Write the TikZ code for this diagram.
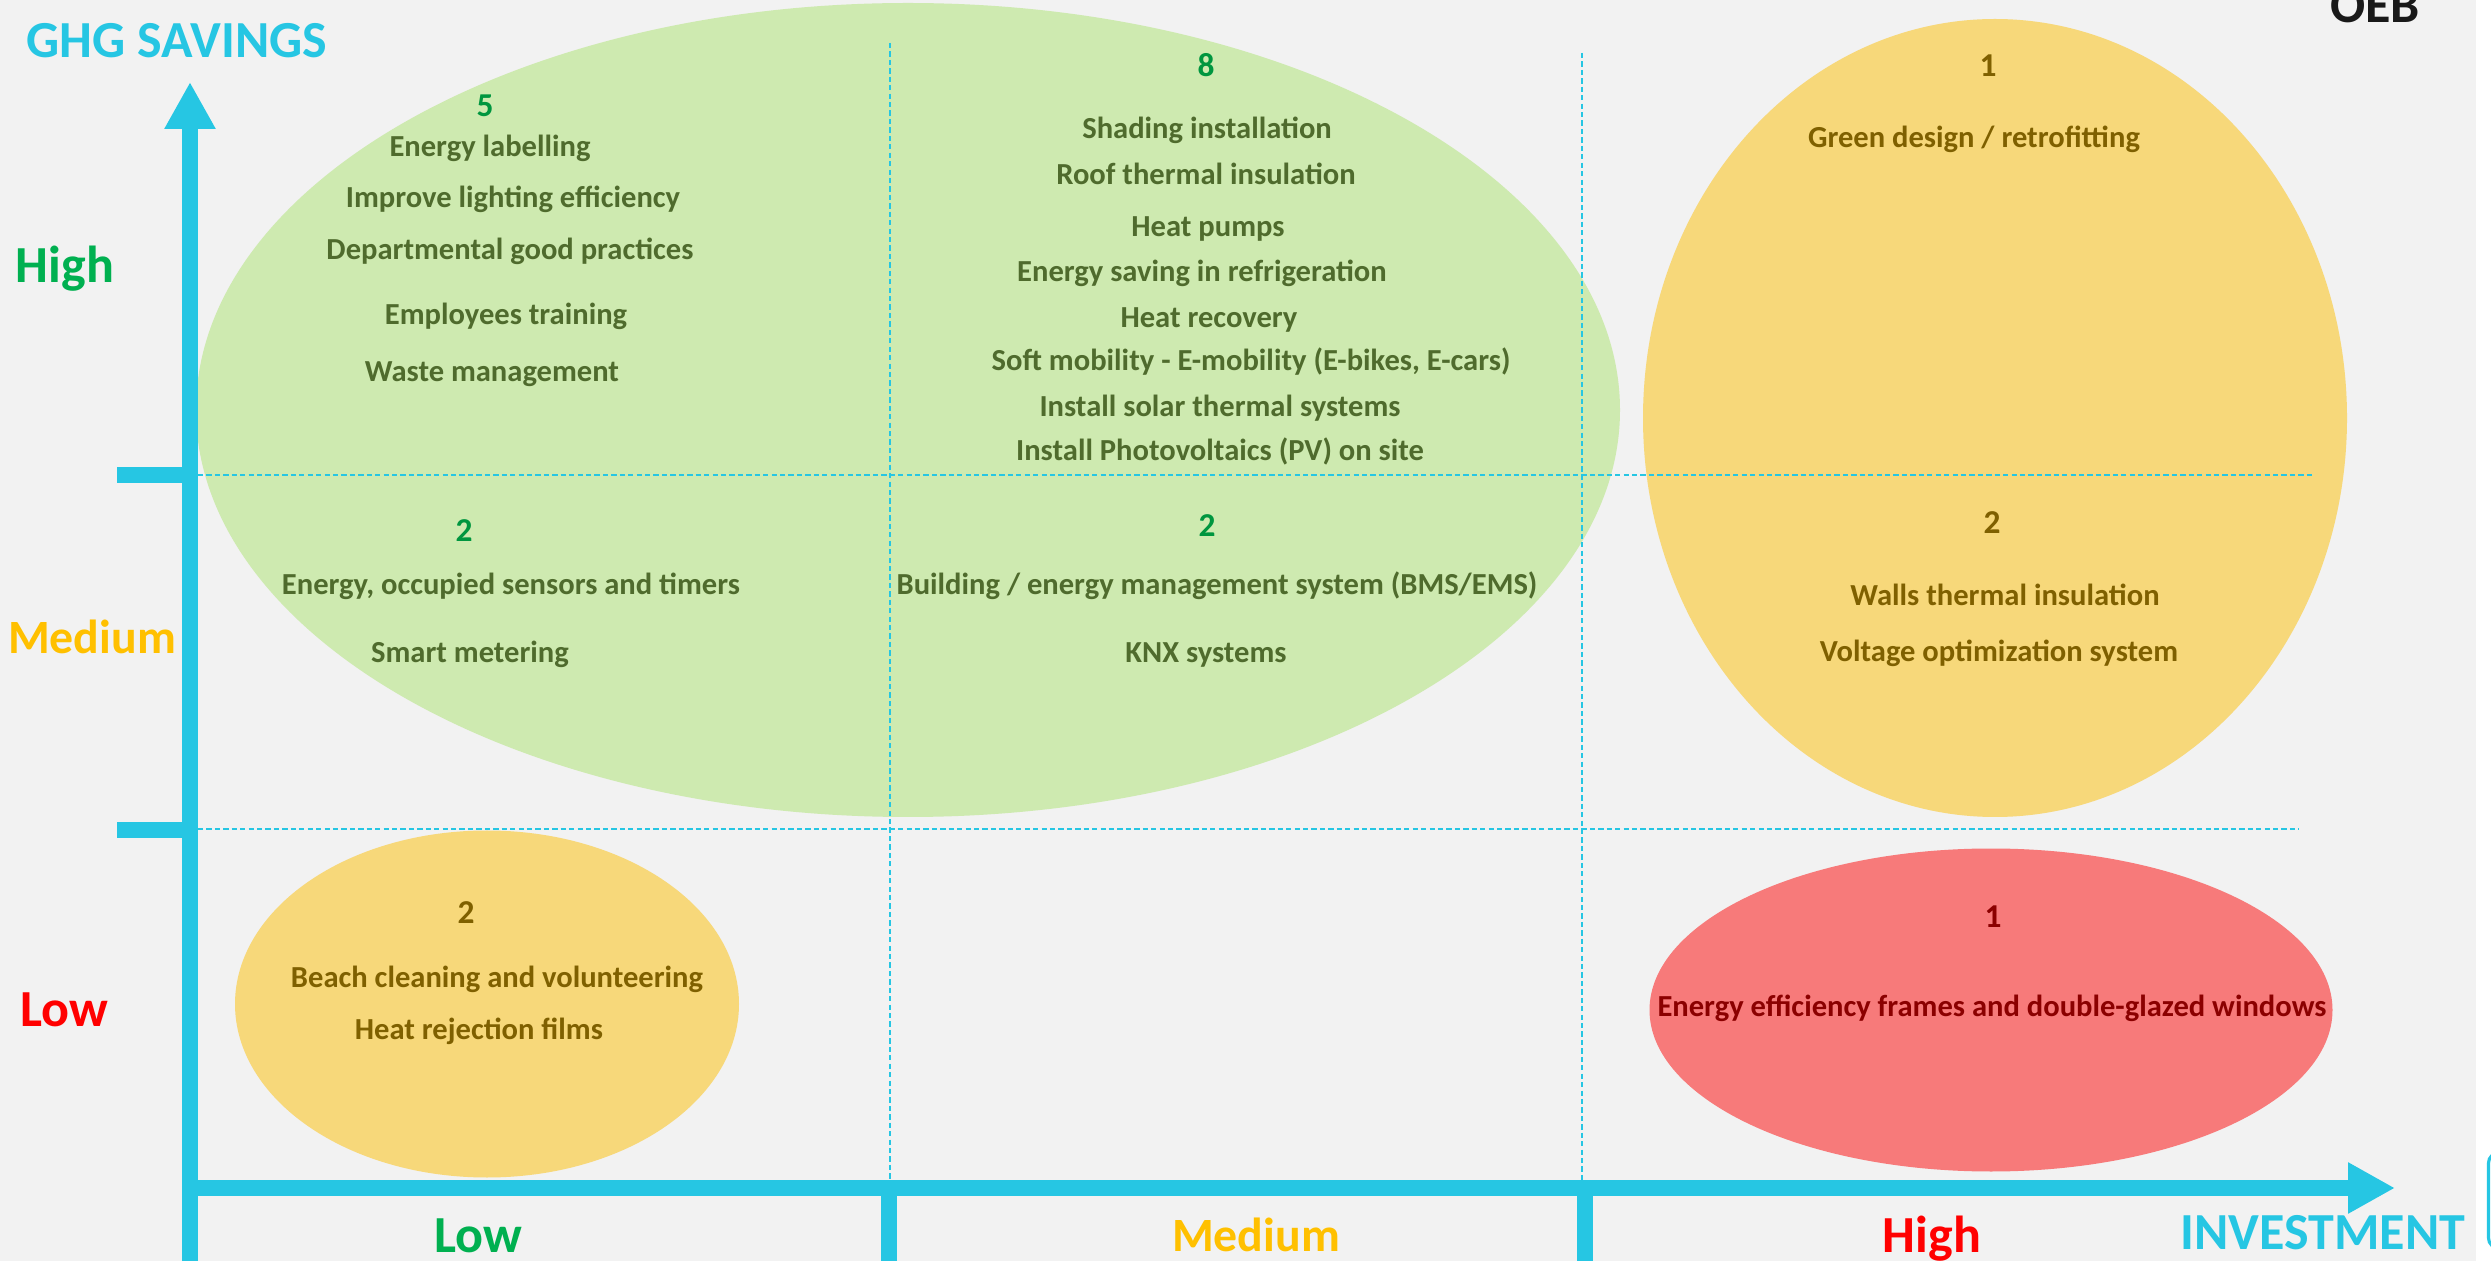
\documentclass[tikz,border=0pt]{standalone}
\usepackage{fontspec}
\setmainfont{Carlito}
\usetikzlibrary{shapes.geometric,arrows.meta}

\definecolor{axiscyan}{HTML}{26C6E3}
\definecolor{bggray}{HTML}{F2F2F2}
\definecolor{lightgreen}{HTML}{CEEAB0}
\definecolor{softyellow}{HTML}{F7D87A}
\definecolor{softred}{HTML}{F77A7A}
\definecolor{olivetext}{HTML}{4F6B2D}
\definecolor{numgreen}{HTML}{00963F}
\definecolor{browntext}{HTML}{7F6000}
\definecolor{darkredtext}{HTML}{8B0000}
\definecolor{lvlgreen}{HTML}{00B050}
\definecolor{lvlgold}{HTML}{FFC000}
\definecolor{lvlred}{HTML}{FF0000}

\begin{document}
\begin{tikzpicture}[
  axis/.style={draw=axiscyan, line width=1.65mm},
  axtick/.style={draw=axiscyan, line width=1.6mm},
  gridline/.style={draw=axiscyan, line width=0.45pt, dash pattern=on 1.5pt off 0.9pt},
  blob/.style={ellipse, inner sep=0pt},
  item/.style={anchor=base, inner sep=0pt, text=#1, font=\fontsize{8.7}{10}\selectfont\bfseries},
  item/.default=olivetext,
  count/.style={anchor=base, inner sep=0pt, text=#1, font=\fontsize{9.5}{11}\selectfont\bfseries},
  level/.style={anchor=base, inner sep=0pt, text=#1, font=\fontsize{14.8}{17}\selectfont\bfseries},
  midlevel/.style={level=lvlgold, font=\fontsize{13.6}{16}\selectfont\bfseries},
]
\useasboundingbox (0,0) rectangle (24.91,12.61);
\clip (0,0) rectangle (24.91,12.61);
\fill[bggray] (0,0) rectangle (24.76,12.61);

% zones
\node[blob, fill=lightgreen, minimum width=14.24cm, minimum height=8.14cm] (greenzone) at (9.08,8.51) {};
\node[blob, fill=softyellow, minimum width=7.04cm, minimum height=7.98cm] (hizone) at (19.95,8.43) {};
\node[blob, fill=softyellow, minimum width=5.04cm, minimum height=3.47cm] (lozone) at (4.87,2.57) {};
\node[blob, fill=softred, minimum width=6.83cm, minimum height=3.23cm] (redzone) at (19.91,2.51) {};

% grid
\coordinate (g1w) at (1.98,7.86);  \coordinate (g1e) at (23.12,7.86);
\coordinate (g2w) at (1.98,4.32);  \coordinate (g2e) at (22.99,4.32);
\coordinate (v1n) at (8.90,12.18); \coordinate (v1s) at (8.90,0.81);
\coordinate (v2n) at (15.82,12.08);\coordinate (v2s) at (15.82,0.81);
\draw[gridline] (g1w) -- (g1e);
\draw[gridline] (g2w) -- (g2e);
\draw[gridline] (v1n) -- (v1s);
\draw[gridline] (v2n) -- (v2s);

% axes
\coordinate (ybot) at (1.90,0);
\coordinate (ytop) at (1.90,11.79);
\coordinate (xbeg) at (1.82,0.73);
\coordinate (xend) at (23.95,0.73);
\draw[axis, -{Triangle[width=4.8mm, length=4.7mm]}] (ybot) -- (ytop);
\draw[axis, -{Triangle[width=4.8mm, length=4.7mm]}] (xbeg) -- (xend);
\draw[axtick] (1.17,7.86) -- (1.90,7.86);
\draw[axtick] (1.17,4.31) -- (1.90,4.31);
\draw[axtick] (8.89,0.73) -- (8.89,0);
\draw[axtick] (15.85,0.73) -- (15.85,0);
\draw[axiscyan, line width=0.9pt, rounded corners=1mm] (25.3,1.08) -- (24.885,1.08) -- (24.885,0.13) -- (25.3,0.13);

% axis labels
\node[level=axiscyan] (ghg) at (1.77,12.03) {GHG SAVINGS};
\node[level=axiscyan] (inv) at (23.23,0.12) {INVESTMENT};
\node[level=lvlgreen] (yhigh) at (0.65,9.78) {High};
\node[midlevel] (ymed) at (0.92,6.07) {Medium};
\node[level=lvlred] (ylow) at (0.64,2.35) {Low};
\node[level=lvlgreen] (xlow) at (4.78,0.09) {Low};
\node[midlevel] (xmed) at (12.56,0.10) {Medium};
\node[level=lvlred] (xhigh) at (19.32,0.09) {High};
\node[level=black!90] (oeb) at (23.75,12.38) {OEB};

% low investment, high savings
\node[count=numgreen] (c5) at (4.85,11.44) {5};
\node[item] (lbl) at (4.90,11.04) {Energy labelling};
\node[item] (light) at (5.13,10.53) {Improve lighting efficiency};
\node[item] (dept) at (5.10,10.01) {Departmental good practices};
\node[item] (train) at (5.06,9.36) {Employees training};
\node[item] (waste) at (4.92,8.79) {Waste management};

% medium investment, high savings
\node[count=numgreen] (c8) at (12.06,11.84) {8};
\node[item] (shade) at (12.07,11.22) {Shading installation};
\node[item] (roof) at (12.06,10.76) {Roof thermal insulation};
\node[item] (hpump) at (12.08,10.24) {Heat pumps};
\node[item] (fridge) at (12.02,9.79) {Energy saving in refrigeration};
\node[item] (hrec) at (12.09,9.33) {Heat recovery};
\node[item] (mobil) at (12.51,8.90) {Soft mobility - E-mobility (E-bikes, E-cars)};
\node[item] (solar) at (12.20,8.44) {Install solar thermal systems};
\node[item] (pv) at (12.20,8.00) {Install Photovoltaics (PV) on site};

% medium savings
\node[count=numgreen] (c2a) at (4.64,7.19) {2};
\node[item] (sens) at (5.11,6.66) {Energy, occupied sensors and timers};
\node[item] (meter) at (4.70,5.98) {Smart metering};
\node[count=numgreen] (c2b) at (12.07,7.24) {2};
\node[item] (bms) at (12.17,6.66) {Building / energy management system (BMS/EMS)};
\node[item] (knx) at (12.06,5.98) {KNX systems};

% high investment
\node[count=browntext] (c1a) at (19.88,11.84) {1};
\node[item=browntext] (retro) at (19.74,11.13) {Green design / retrofitting};
\node[count=browntext] (c2c) at (19.92,7.27) {2};
\node[item=browntext] (walls) at (20.05,6.55) {Walls thermal insulation};
\node[item=browntext] (volt) at (19.99,5.99) {Voltage optimization system};
\node[count=darkredtext] (c1b) at (19.93,3.34) {1};
\node[item=darkredtext] (glaze) at (19.92,2.45) {Energy efficiency frames and double-glazed windows};

% low investment, low savings
\node[count=browntext] (c2d) at (4.66,3.38) {2};
\node[item=browntext] (beach) at (4.97,2.74) {Beach cleaning and volunteering};
\node[item=browntext] (film) at (4.79,2.21) {Heat rejection films};
\end{tikzpicture}
\end{document}
